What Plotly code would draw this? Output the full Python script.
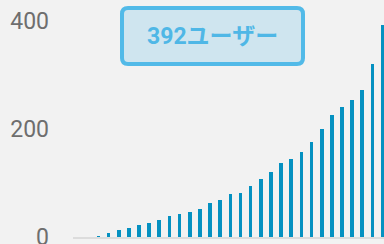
import plotly.graph_objects as go

days = list(range(1, 32))
users = [0, 0, 1, 7, 13, 17, 22, 25, 31, 39, 43, 46, 52, 62, 69, 79,
         82, 95, 108, 121, 137, 144, 157, 176, 200, 225, 241, 254, 272, 320, 392]
y_ticks = [0, 200, 400]
badge_text = "392ユーザー"

W, H = 384, 244
ML, MR, MT, MB = 73, 0, 20, 7
PW, PH = W - ML - MR, H - MT - MB

def px(x, y):
    return (x - ML) / PW, (H - MB - y) / PH

def rounded_path(x0, y0, x1, y1, r):
    def p(x, y):
        a, b = px(x, y)
        return f"{a:.5f},{b:.5f}"
    return (f"M{p(x0 + r, y0)} L{p(x1 - r, y0)} Q{p(x1, y0)} {p(x1, y0 + r)} "
            f"L{p(x1, y1 - r)} Q{p(x1, y1)} {p(x1 - r, y1)} "
            f"L{p(x0 + r, y1)} Q{p(x0, y1)} {p(x0, y1 - r)} "
            f"L{p(x0, y0 + r)} Q{p(x0, y0)} {p(x0 + r, y0)} Z")

fig = go.Figure(go.Bar(x=days, y=users, width=0.36, marker_color="#0591C1",
                       marker_line_width=0))

bx, by = px(212, 36.5)
fig.add_shape(type="path", xref="paper", yref="paper",
              path=rounded_path(122, 8, 303, 64, 6),
              fillcolor="#CFE5EF", line=dict(color="#52BAE8", width=4), layer="above")
fig.add_annotation(x=bx, y=by, xref="paper", yref="paper", text=f"<b>{badge_text}</b>",
                   showarrow=False, xanchor="center", yanchor="middle",
                   font=dict(family="Roboto, Noto Sans CJK JP", size=23, color="#4FB7E6"))

fig.update_layout(
    width=W, height=H,
    margin=dict(l=ML, r=MR, t=MT, b=MB, autoexpand=False),
    paper_bgcolor="#F2F2F2", plot_bgcolor="#F2F2F2",
    showlegend=False, bargap=0,
    xaxis=dict(range=[0.5, 0.5 + PW / 10.15], showticklabels=False, showgrid=False,
               zeroline=False, showline=True, linecolor="#DCDCDC", linewidth=2, ticks="",
               automargin=False),
    yaxis=dict(range=[0, 401], tickvals=y_ticks, showgrid=False, zeroline=False,
               showline=False, ticks="", ticklabelstandoff=23, ticklabeloverflow="allow",
               automargin=False,
               tickfont=dict(family="Roboto", size=23, color="#6E6E6E")),
)
fig.write_html("out.html", config={"displayModeBar": False},
               post_script="document.body.style.margin='0';")
